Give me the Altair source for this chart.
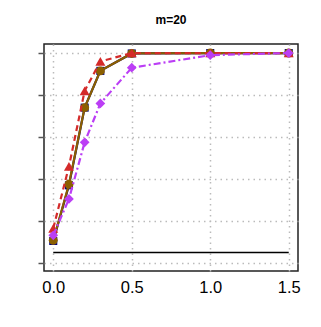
import altair as alt
import pandas as pd

x_vals = [0.0, 0.1, 0.2, 0.3, 0.5, 1.0, 1.5]
blue_vals = [0.105, 0.37, 0.74, 0.915, 0.998, 1.0, 1.0]
brown_vals = [0.108, 0.375, 0.74, 0.915, 0.998, 1.0, 1.0]
red_vals = [0.165, 0.46, 0.82, 0.96, 1.0, 1.0, 1.0]
purple_vals = [0.132, 0.305, 0.575, 0.76, 0.93, 0.99, 1.0]

ref_x = [0.0]
ref_x2 = [1.5]
ref_y = [0.05]

x_ticks = [0.0, 0.5, 1.0, 1.5]
y_ticks = [0.0, 0.2, 0.4, 0.6, 0.8, 1.0]

xscale = alt.Scale(domain=[-0.059, 1.559], nice=False, zero=False)
yscale = alt.Scale(domain=[-0.038, 1.043], nice=False, zero=False)

xaxis = alt.Axis(values=x_ticks, format=".1f", title=None, labelFontSize=16.5,
                 labelFont="Liberation Sans", labelColor="black", labelPadding=8,
                 ticks=False, domain=False, grid=True, gridDash=[1.5, 4],
                 gridColor="#BBBBBB", gridWidth=1.5, labelFlush=False)
yaxis = alt.Axis(values=y_ticks, title=None, labels=False, ticks=True, tickSize=6,
                 tickColor="#555555", tickWidth=1.5, domain=False, grid=True,
                 gridDash=[1.5, 4], gridColor="#BBBBBB", gridWidth=1.5)

series = [
    ("blue", blue_vals, "#000080", "square", None, 65),
    ("brown", brown_vals, "#8B5F00", "circle", None, 80),
    ("red", red_vals, "#D42A2A", "triangle-up", [6, 4], 100),
    ("purple", purple_vals, "#BB3EF5", "diamond", [7, 3, 2, 3], 95),
]

ref_df = pd.DataFrame({"x": ref_x, "x2": ref_x2, "y": ref_y})
layers = [
    alt.Chart(ref_df).mark_rule(color="black", strokeWidth=1.5).encode(
        x=alt.X("x:Q", scale=xscale, axis=xaxis),
        x2="x2:Q",
        y=alt.Y("y:Q", scale=yscale, axis=yaxis),
    )
]

for name, vals, color, shape, dash, size in series:
    df = pd.DataFrame({"x": x_vals, "y": vals})
    base = alt.Chart(df).encode(
        x=alt.X("x:Q", scale=xscale, axis=xaxis),
        y=alt.Y("y:Q", scale=yscale, axis=yaxis),
    )
    if dash:
        line = base.mark_line(color=color, strokeWidth=2.2, strokeDash=dash)
    else:
        line = base.mark_line(color=color, strokeWidth=2.2)
    pts = base.mark_point(shape=shape, filled=True, color=color, size=size, opacity=1)
    layers.append(line)
    layers.append(pts)

chart = alt.layer(*layers).properties(
    width=254, height=227,
    autosize=alt.AutoSizeParams(type="none"),
    padding={"left": 36, "top": 36, "right": 15, "bottom": 48},
    title=alt.TitleParams("m=20", fontSize=12, fontWeight="bold", font="Liberation Sans",
                          anchor="middle", baseline="alphabetic", offset=2, dy=-6,
                          color="black"),
).configure_view(stroke="#222222", strokeWidth=1.5)

chart.save("out.html", embed_options={"renderer": "svg", "actions": False})
